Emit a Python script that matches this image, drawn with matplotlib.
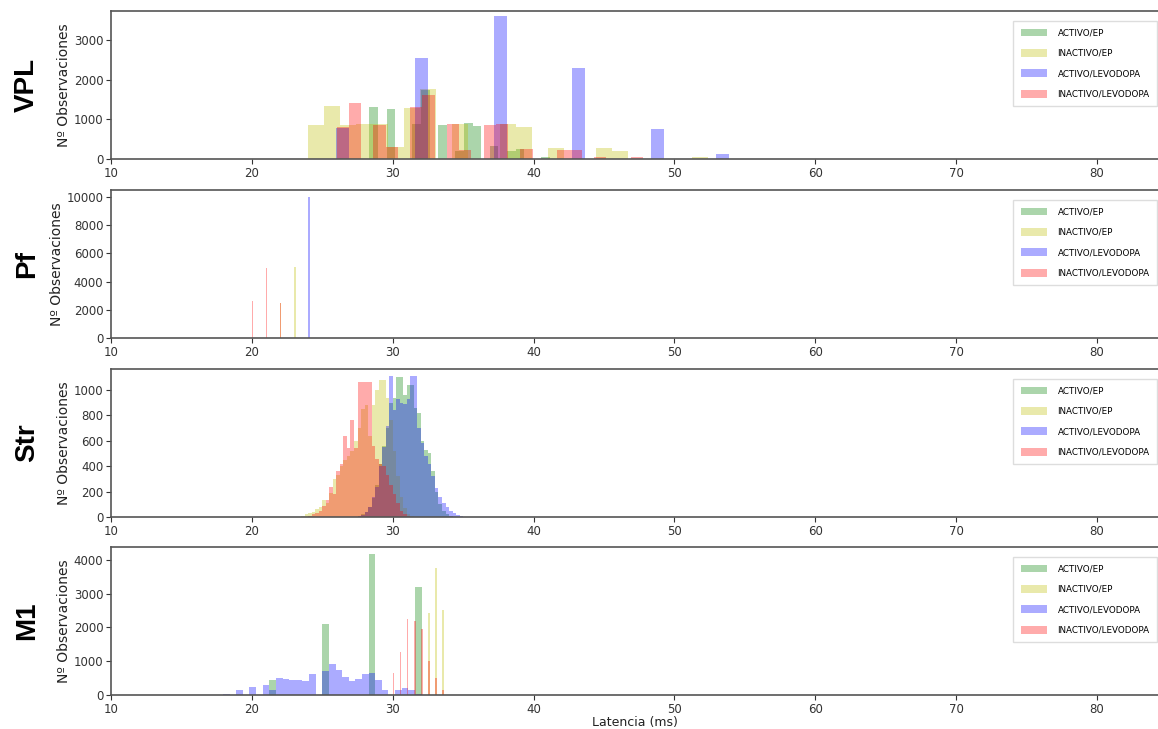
import matplotlib
matplotlib.use("Agg")
import matplotlib.pyplot as plt
from matplotlib.patches import Patch
import numpy as np

# series order / labels / colours (as in the legends)
series = ["ACTIVO/EP", "INACTIVO/EP", "ACTIVO/LEVODOPA", "INACTIVO/LEVODOPA"]
colors = ["g", "y", "b", "r"]
regions = ["VPL", "Pf", "Str", "M1"]
xticks = [10, 20, 30, 40, 50, 60, 70, 80]

# ---- VPL : each series has its own bin start / width ----
vpl_green_start, vpl_green_w = 28.35, 0.61
vpl_green = [1300, 0, 1250, 0, 0, 870, 1750, 0, 850, 0, 200, 900, 820, 0,
             320, 0, 200, 250, 0, 0, 40]
vpl_yellow_start, vpl_yellow_w = 24.0, 1.135
vpl_yellow = [860, 1340, 860, 870, 870, 300, 1290, 1760, 0, 880, 0, 0, 870,
              800, 0, 270, 0, 0, 270, 200, 0, 0, 0, 0, 60]
vpl_blue_start, vpl_blue_w = 26.0, 0.93
vpl_blue = [780, 0, 0, 0, 0, 0, 2550, 0, 0, 0, 0, 0, 3600, 0, 0, 0, 0, 0,
            2300, 0, 0, 0, 0, 0, 750, 0, 0, 0, 0, 120]
vpl_red_start, vpl_red_w = 26.01, 0.87
vpl_red = [800, 1420, 0, 850, 300, 0, 1320, 1620, 0, 870, 230, 0, 850, 870,
           0, 250, 0, 0, 230, 220, 0, 50, 0, 0, 60]

# ---- Pf : very narrow bins ----
pf_w = 0.1
pf_green_x, pf_green = [], []
pf_yellow_x, pf_yellow = [22, 23], [2500, 5050]
pf_blue_x, pf_blue = [24], [10000]
pf_red_x, pf_red = [20, 21, 22], [2600, 5000, 2500]

# ---- Str : common bins of 0.25 ms from 23.5 ----
str_start, str_w = 23.5, 0.25
str_green = [0, 0, 0, 0, 0, 0, 0, 0, 0, 0, 0, 0, 0, 0, 0, 0, 10, 20, 40, 80,
             150, 250, 420, 560, 700, 900, 940, 1100, 1100, 960, 1040, 1040,
             860, 820, 600, 530, 500, 360, 200, 100, 50, 25, 10, 0, 0, 0, 0, 0]
str_yellow = [10, 20, 30, 40, 60, 80, 130, 110, 190, 300, 330, 400, 450, 480,
              520, 600, 700, 850, 880, 640, 880, 1000, 1080, 1080, 940, 760,
              520, 320, 160, 70, 25, 10, 0, 0, 0, 0, 0, 0, 0, 0, 0, 0, 0, 0, 0,
              0, 0, 0]
str_blue = [0, 0, 0, 0, 0, 0, 0, 0, 0, 0, 0, 0, 0, 0, 0, 0, 5, 15, 40, 80,
            160, 240, 400, 550, 720, 1110, 840, 930, 900, 890, 930, 1110, 1110,
            700, 580, 480, 420, 320, 230, 160, 110, 80, 50, 30, 15, 8, 3, 0]
str_red = [0, 0, 10, 20, 30, 50, 90, 130, 240, 180, 360, 420, 640, 540, 760,
           540, 1060, 1060, 1060, 1060, 560, 460, 420, 400, 330, 250, 180, 110,
           50, 20, 5, 0, 0, 0, 0, 0, 0, 0, 0, 0, 0, 0, 0, 0, 0, 0, 0, 0]

# ---- M1 ----
m1_start, m1_w = 17.95, 0.47
m1_green = [0, 0, 0, 0, 0, 0, 0, 450, 0, 0, 0, 0, 0, 0, 0, 2090, 0, 0, 0, 0,
            0, 0, 4180, 0, 0, 0, 0, 0, 0, 3200, 0]
m1_blue = [20, 0, 140, 0, 230, 0, 300, 150, 490, 460, 430, 450, 400, 610, 0,
           700, 920, 730, 530, 400, 460, 610, 650, 450, 150, 0, 140, 200, 150,
           20, 0]
m1_thin_w = 0.12
m1_yellow_x = [32.5, 33.0, 33.5]
m1_yellow = [2440, 3770, 2510]
m1_red_x = [30.0, 30.5, 31.0, 31.5, 32.0, 32.5, 33.0, 33.5]
m1_red = [660, 1270, 2250, 2180, 1950, 1010, 510, 140]

ylims = [3730, 10500, 1165, 4385]
XMAX = 84.33
ALPHA = 0.33


def edges(start, width, n):
    return start + width * np.arange(n)


fig = plt.figure(figsize=(11.58, 7.29), dpi=100)
left, width, height = 111 / 1158, 1 - 111 / 1158, 148 / 729
bottoms = [1 - 159 / 729, 1 - 338 / 729, 1 - 517 / 729, 1 - 695 / 729]
axes = [fig.add_axes([left, b, width, height]) for b in bottoms]

# VPL
ax = axes[0]
for (st, w, h), c in zip(
        [(vpl_green_start, vpl_green_w, vpl_green),
         (vpl_yellow_start, vpl_yellow_w, vpl_yellow),
         (vpl_blue_start, vpl_blue_w, vpl_blue),
         (vpl_red_start, vpl_red_w, vpl_red)], colors):
    ax.bar(edges(st, w, len(h)), h, width=w, align="edge", color=c,
           alpha=ALPHA, linewidth=0)

# Pf
ax = axes[1]
for (xs, h), c in zip([(pf_green_x, pf_green), (pf_yellow_x, pf_yellow),
                       (pf_blue_x, pf_blue), (pf_red_x, pf_red)], colors):
    if len(h):
        ax.bar(xs, h, width=pf_w, align="edge", color=c, alpha=ALPHA,
               linewidth=0)

# Str
ax = axes[2]
for h, c in zip([str_green, str_yellow, str_blue, str_red], colors):
    ax.bar(edges(str_start, str_w, len(h)), h, width=str_w, align="edge",
           color=c, alpha=ALPHA, linewidth=0)

# M1
ax = axes[3]
ax.bar(edges(m1_start, m1_w, len(m1_green)), m1_green, width=m1_w,
       align="edge", color="g", alpha=ALPHA, linewidth=0)
ax.bar(m1_yellow_x, m1_yellow, width=m1_thin_w, align="edge", color="y",
       alpha=ALPHA, linewidth=0)
ax.bar(edges(m1_start, m1_w, len(m1_blue)), m1_blue, width=m1_w,
       align="edge", color="b", alpha=ALPHA, linewidth=0)
ax.bar(m1_red_x, m1_red, width=m1_thin_w, align="edge", color="r",
       alpha=ALPHA, linewidth=0)

handles = [Patch(facecolor=c, alpha=ALPHA, linewidth=0, label=s)
           for c, s in zip(colors, series)]

for ax, region, ymax in zip(axes, regions, ylims):
    ax.set_xlim(10, XMAX)
    ax.set_ylim(0, ymax)
    ax.set_xticks(xticks)
    ax.tick_params(labelsize=8.5, colors="#333333", length=3.5, pad=2)
    for s in ["top", "bottom", "left"]:
        ax.spines[s].set_color("#555555")
        ax.spines[s].set_linewidth(1.2)
    ax.spines["right"].set_visible(False)
    ax.set_ylabel("Nº Observaciones", fontsize=10, color="#222222",
                  labelpad=2)
    ax.text(-0.080, 0.5, region, transform=ax.transAxes, rotation=90,
            ha="center", va="center", fontsize=20, fontweight="bold",
            family="Liberation Sans")
    ax.legend(handles=handles, loc="upper right",
              bbox_to_anchor=(0.9995, 0.935), borderaxespad=0, fontsize=6.3,
              labelspacing=1.3, handlelength=3.0, handleheight=1.0,
              handletextpad=1.2, borderpad=0.9, fancybox=False,
              edgecolor="#dddddd", framealpha=1)

axes[3].set_xlabel("Latencia (ms)", fontsize=9, color="#222222",
                   labelpad=0)

fig.savefig("out.png", dpi=100)
